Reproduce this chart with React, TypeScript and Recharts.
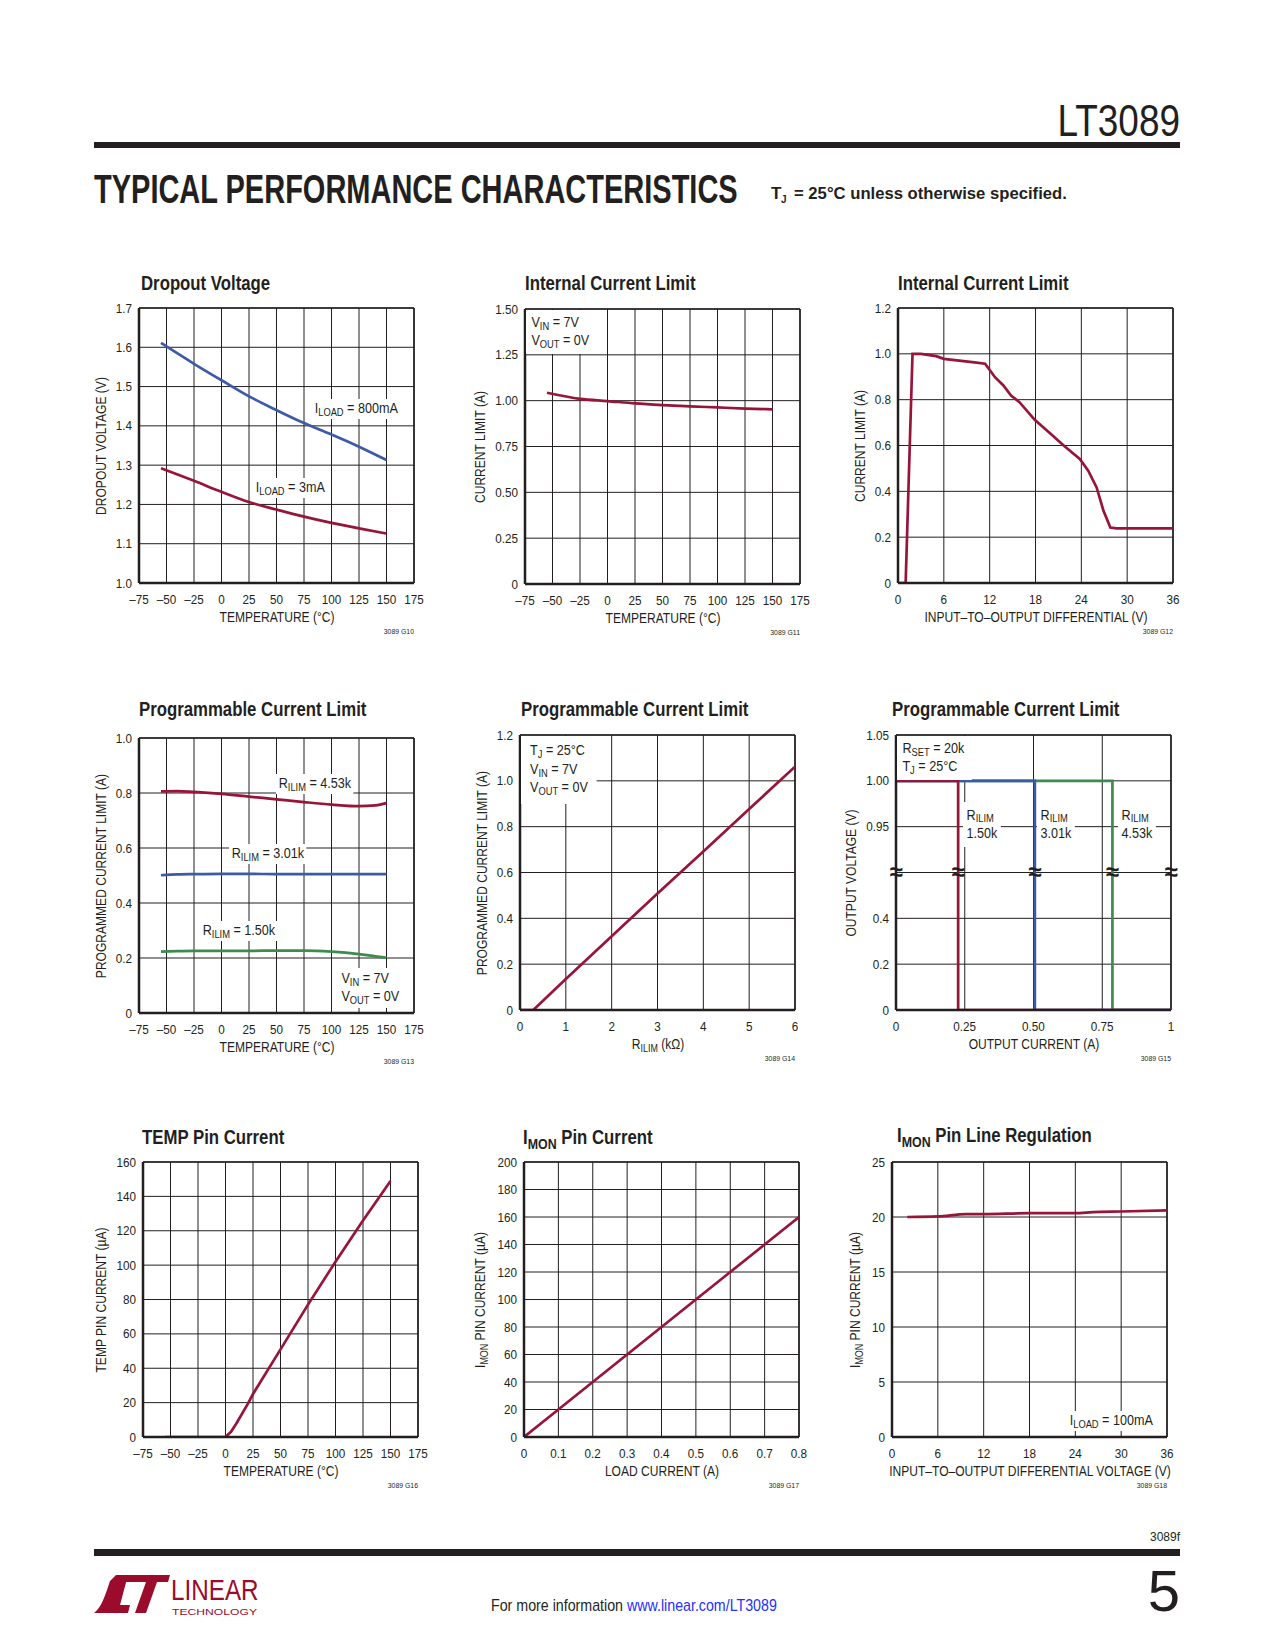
import React from "react";
import {
  LineChart,
  Line,
  XAxis,
  YAxis,
  CartesianGrid,
  ReferenceLine,
  ReferenceDot,
} from "recharts";

const FONT = "'Liberation Sans', Arial, Helvetica, sans-serif";
const INK = "#231f20";
const RED = "#98153a";
const BLUE = "#3d5aa8";
const GREEN = "#3d8b4f";
const SX = 0.86; // condensed look of the datasheet face
const SX_TICK = 0.9;

// ---- data ----

// G10 dropout voltage
const dropTemps = [-55, -25, 0, 25, 50, 75, 100, 125, 150];
const drop800mA = [1.611, 1.558, 1.516, 1.475, 1.44, 1.407, 1.378, 1.347, 1.313];
const drop3mA = [1.292, 1.26, 1.232, 1.206, 1.187, 1.169, 1.153, 1.139, 1.126];

// G11 internal current limit vs temp
const iclTemps = [-55, -25, 0, 25, 50, 75, 100, 125, 150];
const iclAmps = [1.043, 1.01, 0.998, 0.985, 0.976, 0.969, 0.963, 0.957, 0.953];

// G12 internal current limit vs differential
const diffVolts = [0, 1, 1.9, 3, 5, 6, 8, 10, 11.4, 12.7, 13.8, 14.8, 15.9, 17.9, 19.9, 21.8, 23.8, 24.9, 26, 26.9, 27.8, 28.6, 36];
const diffAmps = [0, 0, 1.0, 1.0, 0.99, 0.978, 0.97, 0.963, 0.957, 0.898, 0.862, 0.818, 0.789, 0.712, 0.653, 0.597, 0.541, 0.49, 0.417, 0.315, 0.242, 0.238, 0.238];

// G13 programmable current limit vs temp
const pclTemps = [-55, -40, -25, 0, 25, 50, 75, 100, 125, 140, 150];
const pcl453 = [0.806, 0.807, 0.804, 0.797, 0.787, 0.777, 0.767, 0.758, 0.752, 0.755, 0.763];
const pcl301 = [0.501, 0.504, 0.505, 0.506, 0.506, 0.505, 0.505, 0.505, 0.505, 0.505, 0.505];
const pcl150 = [0.223, 0.225, 0.226, 0.226, 0.226, 0.227, 0.227, 0.223, 0.214, 0.206, 0.201];

// G14 programmable current limit vs RILIM
const rIlimK = [0, 0.29, 1, 2, 3, 4, 5, 6];
const pclByR = [0, 0, 0.135, 0.322, 0.508, 0.692, 0.877, 1.062];

// G15 output voltage vs output current
const outVolts = [1.0, 1.0, 0, 0];
const outAmps150 = [0, 0.226, 0.226, 1];
const outAmps301 = [0, 0.505, 0.505, 1];
const outAmps453 = [0, 0.787, 0.787, 1];
const breakMarks = [0, 0.226, 0.505, 0.787, 1];

// G16 TEMP pin current
const tempTemps = [-55, 0, 5, 10, 20, 25, 50, 75, 100, 125, 150];
const tempMicroA = [0, 0, 3, 8, 19, 25, 51, 77, 102, 126, 149];

// G17 IMON pin current
const loadAmps = [0, 0.1, 0.2, 0.3, 0.4, 0.5, 0.6, 0.7, 0.8];
const imonMicroA = [0, 20, 40, 60, 80, 100, 120, 140, 160];

// G18 IMON line regulation
const lineVolts = [2, 6, 9.7, 12, 18, 24, 26.3, 30, 36];
const lineMicroA = [20.0, 20.05, 20.26, 20.26, 20.35, 20.35, 20.44, 20.5, 20.6];

// axis ticks
const tempTicks = [-75, -50, -25, 0, 25, 50, 75, 100, 125, 150, 175];
const diffTicks = [0, 6, 12, 18, 24, 30, 36];
const dropTicks = [1.0, 1.1, 1.2, 1.3, 1.4, 1.5, 1.6, 1.7];
const quarterTicks = [0, 0.25, 0.5, 0.75, 1.0, 1.25, 1.5];
const fifthTicks12 = [0, 0.2, 0.4, 0.6, 0.8, 1.0, 1.2];
const fifthTicks10 = [0, 0.2, 0.4, 0.6, 0.8, 1.0];
const rTicks = [0, 1, 2, 3, 4, 5, 6];
const outCurrTicks = [0, 0.25, 0.5, 0.75, 1];
const outVoltSlots = [0, 1, 2, 3, 4, 5, 6];
const outVoltLabels = ["0", "0.2", "0.4", "", "0.95", "1.00", "1.05"];
const tempPinTicks = [0, 20, 40, 60, 80, 100, 120, 140, 160];
const loadTicks = [0, 0.1, 0.2, 0.3, 0.4, 0.5, 0.6, 0.7, 0.8];
const imonTicks = [0, 20, 40, 60, 80, 100, 120, 140, 160, 180, 200];
const lineTicks = [0, 5, 10, 15, 20, 25];

// broken voltage axis of G15: 0..0.4 below the break, 0.95..1.05 above it
const brk = (v: number) => (v <= 0.4 ? v / 0.2 : 4 + (v - 0.95) / 0.05);

const dash = (v: number) => (v < 0 ? `–${-v}` : `${v}`);
const fix1 = (v: number) => (v === 0 ? "0" : v.toFixed(1));
const fix2 = (v: number) => (v === 0 ? "0" : v.toFixed(2));
const plain = (v: number) => `${v}`;

// ---- panel geometry ----
const PLOT = 275;
const AX_W = 60;
const AX_H = 50;
const M_TOP = 12;
const M_RIGHT = 22;
const W = AX_W + PLOT + M_RIGHT;
const H = M_TOP + PLOT + AX_H;

type Series = { xs: number[]; ys: number[]; color: string; curve?: "linear" | "monotone" };

type PanelProps = {
  px: number;
  py: number;
  title: React.ReactNode;
  tx: number;
  ty: number;
  yTitle: React.ReactNode;
  yTitleX: number;
  xTitle: React.ReactNode;
  code: string;
  xDomain: [number, number];
  xTicks: number[];
  xFmt?: (v: number) => string;
  yDomain: [number, number];
  yTicks: number[];
  yFmt?: (v: number) => string;
  series: Series[];
  breaks?: number[];
  breakY?: number;
  children?: React.ReactNode;
};

const Sub = ({ children, drop = 0.32 }: { children: React.ReactNode; drop?: number }) => (
  <span style={{ fontSize: "0.74em", position: "relative", top: `${drop}em` }}>{children}</span>
);

const Ann = ({
  x,
  y,
  children,
  lh = 16,
  pad = "1px 3px",
  size = 14,
}: {
  x: number;
  y: number;
  children: React.ReactNode;
  lh?: number;
  pad?: string;
  size?: number;
}) => (
  <div
    style={{
      position: "absolute",
      left: x,
      top: y,
      background: "#fff",
      fontSize: size,
      lineHeight: `${lh}px`,
      padding: pad,
      whiteSpace: "nowrap",
      transform: `scaleX(${SX_TICK})`,
      transformOrigin: "left top",
    }}
  >
    {children}
  </div>
);

const makeXTick = (fmt: (v: number) => string) => (props: any) => (
  <g transform={`translate(${props.x},${props.y})`}>
    <text
      transform={`scale(${SX_TICK},1)`}
      textAnchor="middle"
      dy="0.71em"
      fontSize={13}
      fontFamily={FONT}
      fill={INK}
    >
      {fmt(props.payload.value)}
    </text>
  </g>
);

const makeYTick = (fmt: (v: number) => string) => (props: any) => (
  <g transform={`translate(${props.x},${props.y})`}>
    <text
      transform={`scale(${SX_TICK},1)`}
      textAnchor="end"
      dy="0.355em"
      fontSize={13}
      fontFamily={FONT}
      fill={INK}
    >
      {fmt(props.payload.value)}
    </text>
  </g>
);

const breakShape = (p: any) => (
  <text x={p.cx} y={p.cy + 7} textAnchor="middle" fontSize={24} fontWeight="bold" fontFamily={FONT} fill={INK}>
    ≈
  </text>
);

function Panel(p: PanelProps) {
  const ox = p.px - AX_W;
  const oy = p.py - M_TOP;
  return (
    <div style={{ position: "absolute", left: ox, top: oy, width: W, height: H, fontFamily: FONT, color: INK }}>
      <LineChart width={W} height={H} margin={{ top: M_TOP, right: M_RIGHT, bottom: 0, left: 0 }}>
        <CartesianGrid stroke={INK} strokeWidth={1} />
        <XAxis
          type="number"
          dataKey="x"
          domain={p.xDomain}
          ticks={p.xTicks}
          interval={0}
          allowDataOverflow
          height={AX_H}
          tick={makeXTick(p.xFmt ?? dash)}
          tickLine={false}
          tickSize={6}
          tickMargin={6}
          axisLine={{ stroke: INK, strokeWidth: 2.5 }}
        />
        <YAxis
          type="number"
          domain={p.yDomain}
          ticks={p.yTicks}
          interval={0}
          allowDataOverflow
          width={AX_W}
          tick={makeYTick(p.yFmt ?? plain)}
          tickLine={false}
          tickSize={4}
          tickMargin={3}
          axisLine={{ stroke: INK, strokeWidth: 2.5 }}
        />
        <ReferenceLine y={p.yDomain[1]} stroke={INK} strokeWidth={1.6} />
        <ReferenceLine x={p.xDomain[1]} stroke={INK} strokeWidth={1.6} />
        {p.series.map((s, i) => (
          <Line
            key={i}
            data={s.xs.map((x, j) => ({ x, y: s.ys[j] }))}
            dataKey="y"
            type={s.curve ?? "linear"}
            stroke={s.color}
            strokeWidth={2.7}
            dot={false}
            activeDot={false}
            isAnimationActive={false}
          />
        ))}
        {(p.breaks ?? []).map((b) => (
          <ReferenceDot key={b} x={b} y={p.breakY ?? 0} ifOverflow="visible" shape={breakShape} />
        ))}
      </LineChart>
      <div style={{ position: "absolute", left: AX_W, top: M_TOP, width: PLOT, height: PLOT }}>{p.children}</div>
      <div
        style={{
          position: "absolute",
          left: p.tx - ox,
          top: p.ty - oy,
          transform: `translateY(-50%) scaleX(${SX})`,
          transformOrigin: "left center",
          fontSize: 19.5,
          fontWeight: "bold",
          whiteSpace: "nowrap",
        }}
      >
        {p.title}
      </div>
      <div
        style={{
          position: "absolute",
          left: p.yTitleX - ox,
          top: M_TOP + PLOT / 2,
          transform: `translate(-50%, -50%) rotate(-90deg) scaleX(${SX})`,
          fontSize: 14,
          whiteSpace: "nowrap",
        }}
      >
        {p.yTitle}
      </div>
      <div
        style={{
          position: "absolute",
          left: AX_W + PLOT / 2,
          top: M_TOP + PLOT + 34,
          transform: `translate(-50%, -50%) scaleX(${SX})`,
          fontSize: 14,
          whiteSpace: "nowrap",
        }}
      >
        {p.xTitle}
      </div>
      <div
        style={{
          position: "absolute",
          left: AX_W + PLOT,
          top: M_TOP + PLOT + 48,
          transform: `translate(-100%, -50%) scaleX(${SX})`,
          transformOrigin: "right center",
          fontSize: 8,
          whiteSpace: "nowrap",
        }}
      >
        {p.code}
      </div>
    </div>
  );
}

function PageFrame() {
  return (
    <svg width={1275} height={1650} style={{ position: "absolute", left: 0, top: 0 }} fontFamily={FONT}>
      <text transform="translate(1180,136) scale(0.84,1)" textAnchor="end" fontSize={44} fill={INK}>
        LT3089
      </text>
      <rect x={94} y={142} width={1086} height={6} fill={INK} />
      <text transform="translate(94,203) scale(0.725,1)" fontSize={40} fontWeight="bold" fill={INK}>
        TYPICAL PERFORMANCE CHARACTERISTICS
      </text>
      <text x={771} y={199} fontSize={17} fontWeight="bold" fill={INK}>
        T
      </text>
      <text x={781} y={203} fontSize={10} fontWeight="bold" fill={INK}>
        J
      </text>
      <text transform="translate(794,199) scale(0.98,1)" fontSize={17} fontWeight="bold" fill={INK}>
        = 25°C unless otherwise specified.
      </text>

      <text x={1180} y={1541} textAnchor="end" fontSize={12} fill={INK}>
        3089f
      </text>
      <rect x={94} y={1549} width={1086} height={7} fill={INK} />
      <text x={1180} y={1611} textAnchor="end" fontSize={58} fill={INK}>
        5
      </text>
      <text transform="translate(491,1611) scale(0.89,1)" fontSize={16} fill={INK}>
        For more information <tspan fill="#1f2fff">www.linear.com/LT3089</tspan>
      </text>
      <g transform="translate(94,1575)" fill="#9a0b2c">
        <path d="M0 38 C8 32 12 18 16 6 L22 0 L34 0 L26 30 L36 30 L34 38 Z" />
        <path d="M28 0 L76 0 L74 7 L26 7 Z" />
        <path d="M52 7 L63 7 L52 38 L41 38 Z" />
        <text transform="translate(77,25) scale(0.97,1.2)" fontSize={25}>
          LINEAR
        </text>
        <text transform="translate(78,40) scale(1.35,1)" fontSize={9}>
          TECHNOLOGY
        </text>
      </g>
    </svg>
  );
}

export default function App() {
  return (
    <div style={{ position: "absolute", left: 0, top: 0, width: 1275, height: 1650, background: "#fff" }}>
      <PageFrame />

      <Panel
        px={139}
        py={308}
        title="Dropout Voltage"
        tx={141}
        ty={283}
        yTitle="DROPOUT VOLTAGE (V)"
        yTitleX={101}
        xTitle="TEMPERATURE (°C)"
        code="3089 G10"
        xDomain={[-75, 175]}
        xTicks={tempTicks}
        yDomain={[1.0, 1.7]}
        yTicks={dropTicks}
        yFmt={(v) => v.toFixed(1)}
        series={[
          { xs: dropTemps, ys: drop800mA, color: BLUE, curve: "monotone" },
          { xs: dropTemps, ys: drop3mA, color: RED, curve: "monotone" },
        ]}
      >
        <Ann x={173} y={91}>
          I<Sub>LOAD</Sub> = 800mA
        </Ann>
        <Ann x={114} y={170}>
          I<Sub>LOAD</Sub> = 3mA
        </Ann>
      </Panel>

      <Panel
        px={525}
        py={309}
        title="Internal Current Limit"
        tx={525}
        ty={283}
        yTitle="CURRENT LIMIT (A)"
        yTitleX={480}
        xTitle="TEMPERATURE (°C)"
        code="3089 G11"
        xDomain={[-75, 175]}
        xTicks={tempTicks}
        yDomain={[0, 1.5]}
        yTicks={quarterTicks}
        yFmt={fix2}
        series={[{ xs: iclTemps, ys: iclAmps, color: RED, curve: "monotone" }]}
      >
        <Ann x={1} y={1} lh={17} pad="4px 8px 4px 6px">
          V<Sub>IN</Sub> = 7V
          <br />
          V<Sub>OUT</Sub> = 0V
        </Ann>
      </Panel>

      <Panel
        px={898}
        py={308}
        title="Internal Current Limit"
        tx={898}
        ty={283}
        yTitle="CURRENT LIMIT (A)"
        yTitleX={860}
        xTitle="INPUT–TO–OUTPUT DIFFERENTIAL (V)"
        code="3089 G12"
        xDomain={[0, 36]}
        xTicks={diffTicks}
        xFmt={plain}
        yDomain={[0, 1.2]}
        yTicks={fifthTicks12}
        yFmt={fix1}
        series={[{ xs: diffVolts, ys: diffAmps, color: RED }]}
      />

      <Panel
        px={139}
        py={738}
        title="Programmable Current Limit"
        tx={139}
        ty={709}
        yTitle="PROGRAMMED CURRENT LIMIT (A)"
        yTitleX={101}
        xTitle="TEMPERATURE (°C)"
        code="3089 G13"
        xDomain={[-75, 175]}
        xTicks={tempTicks}
        yDomain={[0, 1.0]}
        yTicks={fifthTicks10}
        yFmt={fix1}
        series={[
          { xs: pclTemps, ys: pcl453, color: RED, curve: "monotone" },
          { xs: pclTemps, ys: pcl301, color: BLUE, curve: "monotone" },
          { xs: pclTemps, ys: pcl150, color: GREEN, curve: "monotone" },
        ]}
      >
        <Ann x={137} y={36}>
          R<Sub>ILIM</Sub> = 4.53k
        </Ann>
        <Ann x={90} y={106}>
          R<Sub>ILIM</Sub> = 3.01k
        </Ann>
        <Ann x={61} y={183}>
          R<Sub>ILIM</Sub> = 1.50k
        </Ann>
        <Ann x={197} y={230} pad="2px 6px">
          V<Sub>IN</Sub> = 7V
          <br />
          V<Sub>OUT</Sub> = 0V
        </Ann>
      </Panel>

      <Panel
        px={520}
        py={735}
        title="Programmable Current Limit"
        tx={521}
        ty={709}
        yTitle="PROGRAMMED CURRENT LIMIT (A)"
        yTitleX={482}
        xTitle={
          <>
            R<Sub>ILIM</Sub> (kΩ)
          </>
        }
        code="3089 G14"
        xDomain={[0, 6]}
        xTicks={rTicks}
        xFmt={plain}
        yDomain={[0, 1.2]}
        yTicks={fifthTicks12}
        yFmt={fix1}
        series={[{ xs: rIlimK, ys: pclByR, color: RED }]}
      >
        <Ann x={1} y={1} lh={16.5} pad="6px 10px 6px 10px">
          T<Sub>J</Sub> = 25°C
          <br />
          V<Sub>IN</Sub> = 7V
          <br />
          V<Sub>OUT</Sub> = 0V
        </Ann>
      </Panel>

      <Panel
        px={896}
        py={735}
        title="Programmable Current Limit"
        tx={892}
        ty={709}
        yTitle="OUTPUT VOLTAGE (V)"
        yTitleX={851}
        xTitle="OUTPUT CURRENT (A)"
        code="3089 G15"
        xDomain={[0, 1]}
        xTicks={outCurrTicks}
        xFmt={(v) => (v === 0 || v === 1 ? `${v}` : v.toFixed(2))}
        yDomain={[0, 6]}
        yTicks={outVoltSlots}
        yFmt={(v) => outVoltLabels[v] ?? ""}
        series={[
          { xs: outAmps453, ys: outVolts.map(brk), color: GREEN },
          { xs: outAmps301, ys: outVolts.map(brk), color: BLUE },
          { xs: outAmps150, ys: outVolts.map(brk), color: RED },
        ]}
        breaks={breakMarks}
        breakY={3}
      >
        <Ann x={1} y={1} lh={17} pad="4px 8px 4px 6px">
          R<Sub>SET</Sub> = 20k
          <br />
          T<Sub>J</Sub> = 25°C
        </Ann>
        <Ann x={67} y={67} lh={17} pad="5px 4px" size={14}>
          R<Sub drop={0.15}>ILIM</Sub>
          <br />
          1.50k
        </Ann>
        <Ann x={141} y={67} lh={17} pad="5px 4px" size={14}>
          R<Sub drop={0.15}>ILIM</Sub>
          <br />
          3.01k
        </Ann>
        <Ann x={222} y={67} lh={17} pad="5px 4px" size={14}>
          R<Sub drop={0.15}>ILIM</Sub>
          <br />
          4.53k
        </Ann>
      </Panel>

      <Panel
        px={143}
        py={1162}
        title="TEMP Pin Current"
        tx={142}
        ty={1137}
        yTitle="TEMP PIN CURRENT (µA)"
        yTitleX={101}
        xTitle="TEMPERATURE (°C)"
        code="3089 G16"
        xDomain={[-75, 175]}
        xTicks={tempTicks}
        yDomain={[0, 160]}
        yTicks={tempPinTicks}
        series={[{ xs: tempTemps, ys: tempMicroA, color: RED }]}
      />

      <Panel
        px={524}
        py={1162}
        title={
          <>
            I<Sub>MON</Sub> Pin Current
          </>
        }
        tx={523}
        ty={1137}
        yTitle={
          <>
            I<Sub>MON</Sub> PIN CURRENT (µA)
          </>
        }
        yTitleX={480}
        xTitle="LOAD CURRENT (A)"
        code="3089 G17"
        xDomain={[0, 0.8]}
        xTicks={loadTicks}
        xFmt={(v) => (v === 0 ? "0" : v.toFixed(1))}
        yDomain={[0, 200]}
        yTicks={imonTicks}
        series={[{ xs: loadAmps, ys: imonMicroA, color: RED }]}
      />

      <Panel
        px={892}
        py={1162}
        title={
          <>
            I<Sub>MON</Sub> Pin Line Regulation
          </>
        }
        tx={897}
        ty={1135}
        yTitle={
          <>
            I<Sub>MON</Sub> PIN CURRENT (µA)
          </>
        }
        yTitleX={855}
        xTitle="INPUT–TO–OUTPUT DIFFERENTIAL VOLTAGE (V)"
        code="3089 G18"
        xDomain={[0, 36]}
        xTicks={diffTicks}
        xFmt={plain}
        yDomain={[0, 25]}
        yTicks={lineTicks}
        series={[{ xs: lineVolts, ys: lineMicroA, color: RED, curve: "monotone" }]}
      >
        <Ann x={175} y={249}>
          I<Sub>LOAD</Sub> = 100mA
        </Ann>
      </Panel>
    </div>
  );
}
